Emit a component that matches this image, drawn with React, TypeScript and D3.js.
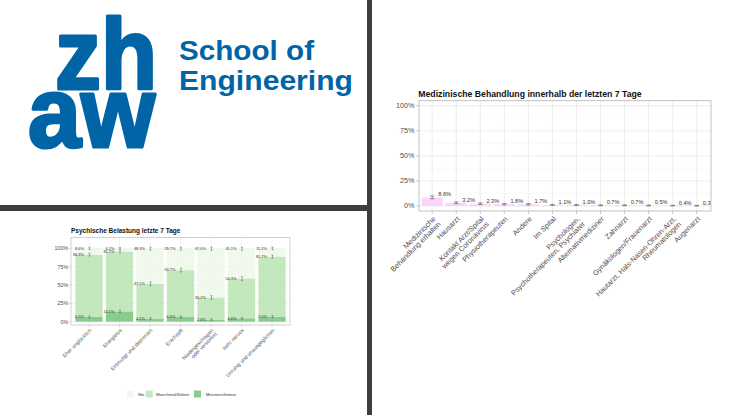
import React from "react";
import * as d3 from "d3";

// ---------- Left chart data: Psychische Belastung ----------
const psychCategories = [
  "Eher unglücklich",
  "Energielos",
  "Entmutigt und deprimiert",
  "Erschöpft",
  "Niedergeschlagen\noder verstimmt",
  "Sehr nervös",
  "Unruhig und unausgeglichen",
];
const nieValues = [8.6, 4.2, 48.3, 29.7, 67.0, 41.1, 11.2];
const manchmalValues = [84.9, 81.7, 47.5, 63.7, 30.2, 54.3, 81.7];
const meistensValues = [6.5, 14.1, 4.2, 6.6, 2.8, 4.6, 7.0];
const nieErr = [1.5, 1.1, 2.6, 2.4, 2.5, 2.6, 1.7];
const manchmalErr = [1.9, 2.0, 2.6, 2.5, 2.4, 2.6, 2.0];
const meistensErr = [1.3, 1.8, 1.1, 1.3, 0.9, 1.1, 1.3];
const legendLabels = ["Nie", "Manchmal/Selten", "Meistens/Immer"];
const pctTicks = [0, 25, 50, 75, 100];
const pctMinor = [12.5, 37.5, 62.5, 87.5];

// ---------- Right chart data: Medizinische Behandlung ----------
const medCategories = [
  "Medizinische\nBehandlung erhalten",
  "Hausarzt",
  "Kontakt Arzt/Spital\nwegen Coronavirus",
  "Physiotherapeuten",
  "Andere",
  "Im Spital",
  "Psychologen,\nPsychotherapeuten, Psychiater",
  "Alternativmediziner",
  "Zahnarzt",
  "Gynäkologen/Frauenarzt",
  "Hautarzt, Hals-Nasen-Ohren-Arzt,\nRheumatologen",
  "Augenarzt",
];
const medValues = [8.6, 3.2, 2.3, 1.8, 1.7, 1.1, 1.0, 0.7, 0.7, 0.5, 0.4, 0.3];
const medErr = [1.4, 0.9, 0.8, 0.7, 0.7, 0.5, 0.5, 0.4, 0.4, 0.4, 0.3, 0.3];

const FONT = "'Liberation Sans', Arial, sans-serif";
const BLUE = "#0064A6";
const DARK = "#3D3D3D";
const greens = ["#EDF8E9", "#BAE4B3", "#74C476"]; // Nie, Manchmal, Meistens

function RotLabel({ x, y, text, fs, fill }: { x: number; y: number; text: string; fs: number; fill: string }) {
  const lines = text.split("\n");
  return (
    <text transform={`translate(${x},${y}) rotate(-45)`} textAnchor="end" fontSize={fs} fill={fill} fontFamily={FONT}>
      {lines.map((l, i) => (
        <tspan key={i} x={0} dy={i === 0 ? fs * 0.75 : fs * 1.0}>
          {l}
        </tspan>
      ))}
    </text>
  );
}

function PsychChart() {
  const panel = { x0: 71, x1: 290, y0: 237.7, y1: 325 };
  const x = d3.scalePoint<string>().domain(psychCategories).range([89, 272]);
  const y = d3.scaleLinear().domain([-4.5, 114.5]).range([panel.y1, panel.y0]);
  const bw = 27.3;
  const rows = psychCategories.map((c, i) => ({
    cat: c,
    meistens: meistensValues[i],
    manchmal: manchmalValues[i],
    nie: nieValues[i],
  }));
  const keys = ["meistens", "manchmal", "nie"];
  const colorOf: Record<string, string> = { nie: greens[0], manchmal: greens[1], meistens: greens[2] };
  const errOf: Record<string, number[]> = { nie: nieErr, manchmal: manchmalErr, meistens: meistensErr };
  const stack = d3.stack<any>().keys(keys)(rows);
  const legendX = [127, 145.7, 194];
  const legendTextX = [138, 156, 205.7];
  return (
    <g>
      <text x={71} y={233.4} fontSize={6.5} fontWeight="bold" fill="#111" fontFamily={FONT}>
        Psychische Belastung letzte 7 Tage
      </text>
      {pctMinor.map((t) => (
        <line key={"m" + t} x1={panel.x0} x2={panel.x1} y1={y(t)} y2={y(t)} stroke="#F0F0F0" strokeWidth={0.3} />
      ))}
      {pctTicks.map((t) => (
        <line key={"g" + t} x1={panel.x0} x2={panel.x1} y1={y(t)} y2={y(t)} stroke="#E3E3E3" strokeWidth={0.5} />
      ))}
      {psychCategories.map((c) => (
        <line key={"v" + c} x1={x(c)} x2={x(c)} y1={panel.y0} y2={panel.y1} stroke="#E3E3E3" strokeWidth={0.5} />
      ))}
      {stack.map((layer) => (
        <g key={layer.key}>
          {layer.map((d: any, i: number) => (
            <rect
              key={i}
              x={(x(psychCategories[i]) as number) - bw / 2}
              width={bw}
              y={y(d[1])}
              height={y(d[0]) - y(d[1])}
              fill={colorOf[layer.key]}
              fillOpacity={0.85}
            />
          ))}
        </g>
      ))}
      {stack.map((layer) => (
        <g key={"lab" + layer.key}>
          {layer.map((d: any, i: number) => {
            const cx = x(psychCategories[i]) as number;
            const v = d[1] - d[0];
            const e = errOf[layer.key][i];
            const top = d[1];
            return (
              <g key={i}>
                <text x={cx - 5} y={y(top) + 1.3} fontSize={3.9} textAnchor="end" fill="#333" fontFamily={FONT}>
                  {v.toFixed(1)}%
                </text>
                <g stroke="#555" strokeWidth={0.45}>
                  <line x1={cx + 0.5} x2={cx + 0.5} y1={y(top - e)} y2={y(Math.min(top + e, 101.5))} />
                  <line x1={cx - 0.6} x2={cx + 1.6} y1={y(top - e)} y2={y(top - e)} />
                  <line x1={cx - 0.6} x2={cx + 1.6} y1={y(Math.min(top + e, 101.5))} y2={y(Math.min(top + e, 101.5))} />
                </g>
              </g>
            );
          })}
        </g>
      ))}
      <rect x={panel.x0} y={panel.y0} width={panel.x1 - panel.x0} height={panel.y1 - panel.y0} fill="none" stroke="#B3B3B3" strokeWidth={0.6} />
      {pctTicks.map((t) => (
        <g key={"yt" + t}>
          <line x1={panel.x0 - 2} x2={panel.x0} y1={y(t)} y2={y(t)} stroke="#B3B3B3" strokeWidth={0.5} />
          <text x={panel.x0 - 2.8} y={y(t) + 1.9} fontSize={5.4} textAnchor="end" fill="#4D4D4D" fontFamily={FONT}>
            {t}%
          </text>
        </g>
      ))}
      {psychCategories.map((c) => (
        <g key={"xt" + c}>
          <line x1={x(c)} x2={x(c)} y1={panel.y1} y2={panel.y1 + 2} stroke="#B3B3B3" strokeWidth={0.5} />
          <RotLabel x={x(c) as number} y={panel.y1 + 3} text={c} fs={5.2} fill="#555" />
        </g>
      ))}
      {legendLabels.map((l, i) => (
        <g key={"lg" + l}>
          <rect x={legendX[i]} y={390.5} width={7} height={7} fill={greens[i]} fillOpacity={0.85} />
          <text x={legendTextX[i]} y={395.5} fontSize={4.3} fill="#333" fontFamily={FONT}>
            {l}
          </text>
        </g>
      ))}
    </g>
  );
}

function MedChart() {
  const panel = { x0: 419, x1: 711, y0: 100.7, y1: 211 };
  const x = d3.scalePoint<string>().domain(medCategories).range([432.2, 696.7]);
  const y = d3.scaleLinear().domain([-5, 105]).range([panel.y1, panel.y0]);
  const step = x.step();
  const bw = 21;
  return (
    <g>
      <defs>
        <clipPath id="medclip">
          <rect x={panel.x0} y={panel.y0} width={panel.x1 - panel.x0} height={panel.y1 - panel.y0} />
        </clipPath>
      </defs>
      <text x={418.3} y={97.2} fontSize={8.7} fontWeight="bold" fill="#111" fontFamily={FONT}>
        Medizinische Behandlung innerhalb der letzten 7 Tage
      </text>
      {pctMinor.map((t) => (
        <line key={"m" + t} x1={panel.x0} x2={panel.x1} y1={y(t)} y2={y(t)} stroke="#F0F0F0" strokeWidth={0.4} />
      ))}
      {pctTicks.map((t) => (
        <line key={"g" + t} x1={panel.x0} x2={panel.x1} y1={y(t)} y2={y(t)} stroke="#E3E3E3" strokeWidth={0.6} />
      ))}
      {medCategories.map((c) => (
        <line key={"v" + c} x1={x(c)} x2={x(c)} y1={panel.y0} y2={panel.y1} stroke="#E3E3E3" strokeWidth={0.6} />
      ))}
      <g clipPath="url(#medclip)">
        {medCategories.map((c, i) => (
          <rect key={"b" + c} x={(x(c) as number) - bw / 2} width={bw} y={y(medValues[i])} height={y(0) - y(medValues[i])} fill="#FDD5FB" />
        ))}
        {medCategories.map((c, i) => {
          const cx = x(c) as number;
          const lo = y(medValues[i] - medErr[i]);
          const hi = y(medValues[i] + medErr[i]);
          return (
            <g key={"e" + c} stroke="#555" strokeWidth={0.6}>
              <line x1={cx} x2={cx} y1={lo} y2={hi} />
              <line x1={cx - 2.3} x2={cx + 2.3} y1={lo} y2={lo} />
              <line x1={cx - 2.3} x2={cx + 2.3} y1={hi} y2={hi} />
            </g>
          );
        })}
        {medCategories.map((c, i) => (
          <text key={"t" + c} x={(x(c) as number) + step * 0.52} y={y(medValues[i]) - 1} fontSize={5.6} textAnchor="middle" fill="#333" fontFamily={FONT}>
            {medValues[i].toFixed(1)}%
          </text>
        ))}
      </g>
      <rect x={panel.x0} y={panel.y0} width={panel.x1 - panel.x0} height={panel.y1 - panel.y0} fill="none" stroke="#B3B3B3" strokeWidth={0.8} />
      {pctTicks.map((t) => (
        <g key={"yt" + t}>
          <line x1={panel.x0 - 3} x2={panel.x0} y1={y(t)} y2={y(t)} stroke="#B3B3B3" strokeWidth={0.7} />
          <text x={panel.x0 - 4.5} y={y(t) + 2.5} fontSize={7.2} textAnchor="end" fill="#4D4D4D" fontFamily={FONT}>
            {t}%
          </text>
        </g>
      ))}
      {medCategories.map((c) => (
        <g key={"xt" + c}>
          <line x1={x(c)} x2={x(c)} y1={panel.y1} y2={panel.y1 + 3} stroke="#B3B3B3" strokeWidth={0.7} />
          <RotLabel x={x(c) as number} y={panel.y1 + 4.5} text={c} fs={7.3} fill="#4D4D4D" />
        </g>
      ))}
    </g>
  );
}

function Logo() {
  return (
    <g fill={BLUE} fontFamily={FONT} fontWeight="bold">
      <g stroke={BLUE} strokeWidth={3.2} strokeLinejoin="round">
        <text x={55} y={89} fontSize={100} textLength={102} lengthAdjust="spacingAndGlyphs">
          zh
        </text>
        <text x={28} y={146.5} fontSize={100} textLength={127} lengthAdjust="spacingAndGlyphs">
          aw
        </text>
      </g>
      <text x={179} y={60} fontSize={28} textLength={135} lengthAdjust="spacingAndGlyphs">
        School of
      </text>
      <text x={179} y={89.5} fontSize={28} textLength={174} lengthAdjust="spacingAndGlyphs">
        Engineering
      </text>
    </g>
  );
}

export default function App() {
  return (
    <svg
      width={735}
      height={415}
      viewBox="0 0 735 415"
      style={{ position: "absolute", left: 0, top: 0, background: "#fff" }}
    >
      <rect x={0} y={0} width={735} height={415} fill="#fff" />
      <Logo />
      <PsychChart />
      <MedChart />
      <rect x={367} y={0} width={5} height={415} fill={DARK} />
      <rect x={0} y={205} width={367} height={6} fill={DARK} />
    </svg>
  );
}
